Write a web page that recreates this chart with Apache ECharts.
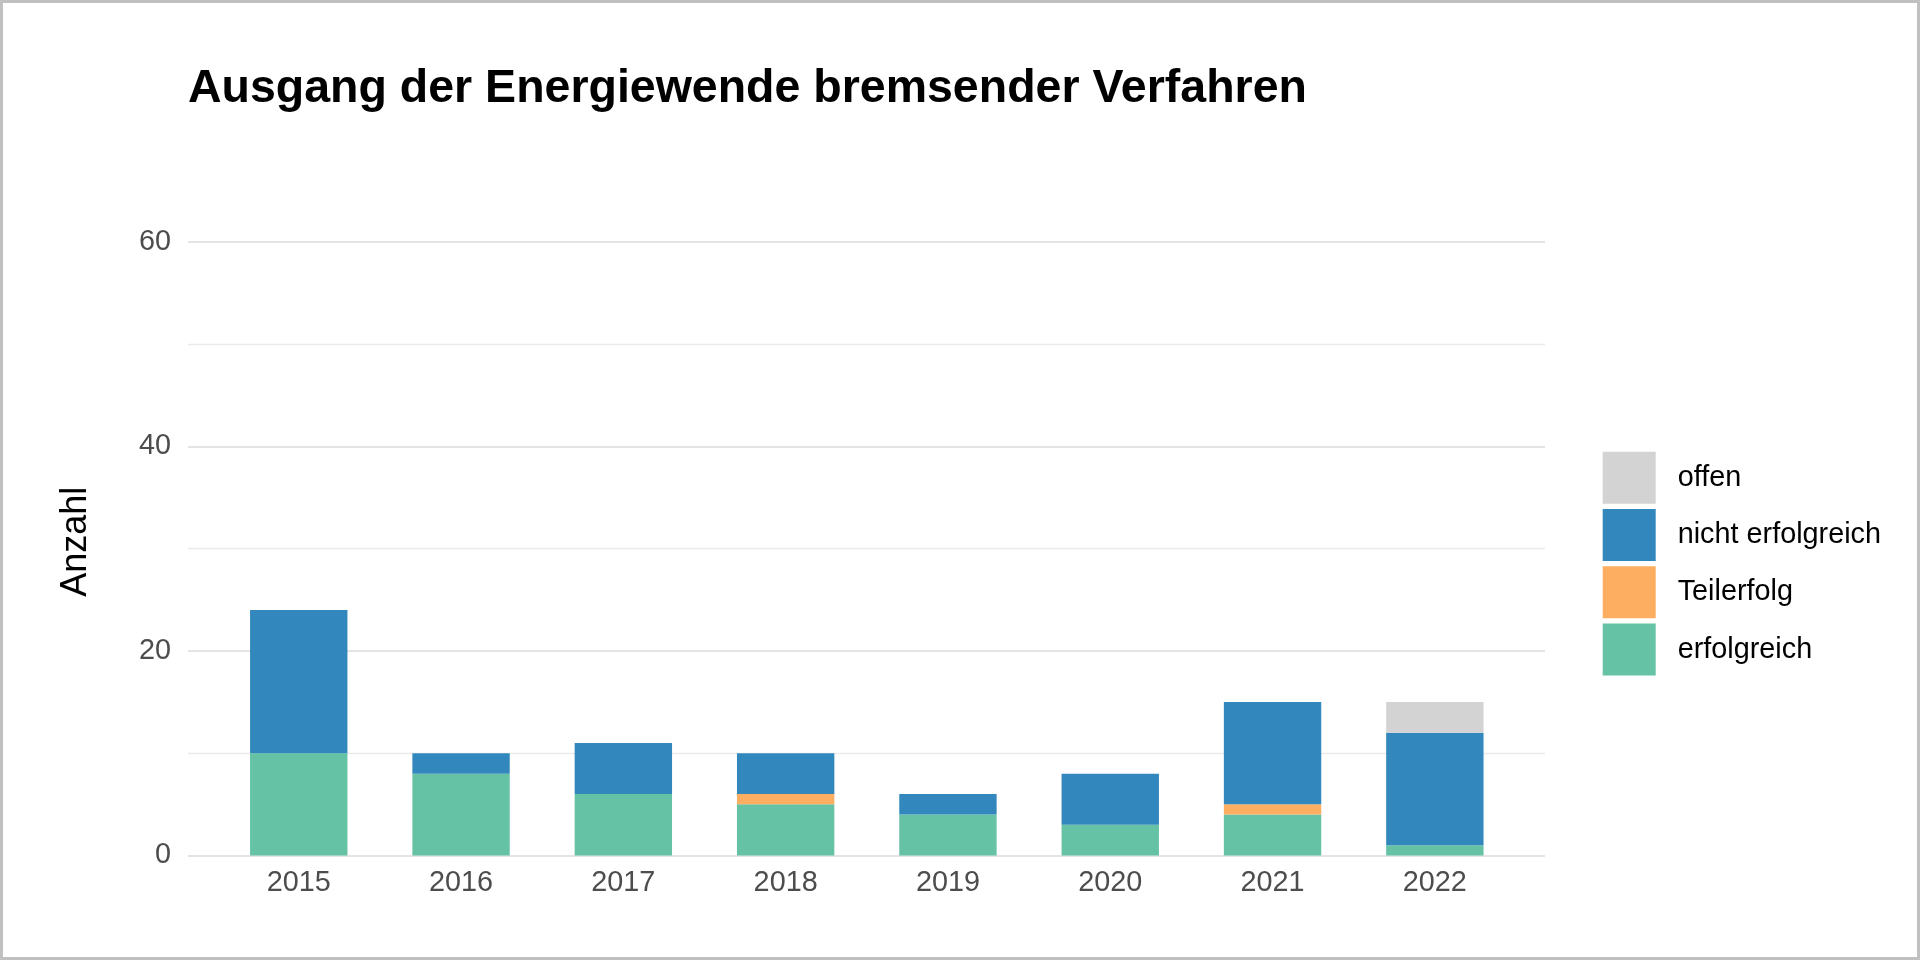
<!DOCTYPE html>
<html>
<head>
<meta charset="utf-8">
<script src="https://cdn.jsdelivr.net/npm/echarts@6/dist/echarts.min.js"></script>
<style>
html,body{margin:0;padding:0;background:#fff;}
#chart{width:1920px;height:960px;}
</style>
</head>
<body>
<div id="chart"></div>
<script>
const years = ['2015','2016','2017','2018','2019','2020','2021','2022'];
const erfolgreich = [10, 8, 6, 5, 4, 3, 4, 1];
const teilerfolg = [0, 0, 0, 1, 0, 0, 1, 0];
const nichtErfolgreich = [14, 2, 5, 4, 2, 5, 10, 11];
const offen = [0, 0, 0, 0, 0, 0, 0, 3];
const yTicks = [0, 20, 40, 60];

const FONT = 'Liberation Sans, Arial, sans-serif';
const chart = echarts.init(document.getElementById('chart'));
const gTop = 241.7, gBottom = 104.5;

chart.setOption({
  backgroundColor: '#ffffff',
  animation: false,
  title: {
    text: 'Ausgang der Energiewende bremsender Verfahren',
    left: 188, top: 66, padding: 0,
    textStyle: {fontFamily: FONT, fontSize: 46.5, fontWeight: 'bold', color: '#000000'}
  },
  graphic: [
    {type: 'rect', shape: {x: 1.5, y: 1.5, width: 1917, height: 957},
     style: {fill: 'none', stroke: '#c0c0c0', lineWidth: 3}, silent: true},
    {type: 'text', x: 76, y: 541.7, rotation: Math.PI / 2,
     style: {text: 'Anzahl', font: '36px ' + FONT, fill: '#000000', textAlign: 'center', textVerticalAlign: 'middle'}}
  ],
  legend: {
    orient: 'vertical',
    left: 1602.7, top: 451.7,
    itemWidth: 53, itemHeight: 52, itemGap: 5.3,
    padding: 0,
    icon: 'rect',
    data: ['offen', 'nicht erfolgreich', 'Teilerfolg', 'erfolgreich'],
    textStyle: {fontFamily: FONT, fontSize: 28.8, color: '#000000', padding: [0, 0, 0, 17]}
  },
  grid: [
    {left: 188, right: 375, top: gTop, bottom: gBottom},
    {left: 217.6, right: 404, top: gTop, bottom: gBottom}
  ],
  xAxis: [
    {type: 'value', gridIndex: 0, show: false, min: 0, max: 1},
    {type: 'category', gridIndex: 1, data: years,
     axisLine: {show: false}, axisTick: {show: false},
     axisLabel: {fontFamily: FONT, fontSize: 28.8, color: '#4d4d4d', margin: 13}}
  ],
  yAxis: [
    {type: 'value', gridIndex: 0, min: yTicks[0], max: yTicks[yTicks.length - 1], interval: 20,
     axisLine: {show: false}, axisTick: {show: false},
     axisLabel: {fontFamily: FONT, fontSize: 28.8, color: '#4d4d4d', margin: 17},
     splitLine: {show: true, lineStyle: {color: '#e4e4e4', width: 2.2}},
     minorTick: {show: false, splitNumber: 2},
     minorSplitLine: {show: true, lineStyle: {color: '#ebebeb', width: 1.3}}},
    {type: 'value', gridIndex: 1, min: 0, max: 60, show: false, splitLine: {show: false}}
  ],
  series: [
    {name: 'erfolgreich', type: 'bar', stack: 'a', data: erfolgreich, xAxisIndex: 1, yAxisIndex: 1, barWidth: '60%', itemStyle: {color: '#66c2a5'}},
    {name: 'Teilerfolg', type: 'bar', stack: 'a', data: teilerfolg, xAxisIndex: 1, yAxisIndex: 1, barWidth: '60%', itemStyle: {color: '#fdae61'}},
    {name: 'nicht erfolgreich', type: 'bar', stack: 'a', data: nichtErfolgreich, xAxisIndex: 1, yAxisIndex: 1, barWidth: '60%', itemStyle: {color: '#3288bd'}},
    {name: 'offen', type: 'bar', stack: 'a', data: offen, xAxisIndex: 1, yAxisIndex: 1, barWidth: '60%', itemStyle: {color: '#d3d3d3'}}
  ]
});
</script>
</body>
</html>
